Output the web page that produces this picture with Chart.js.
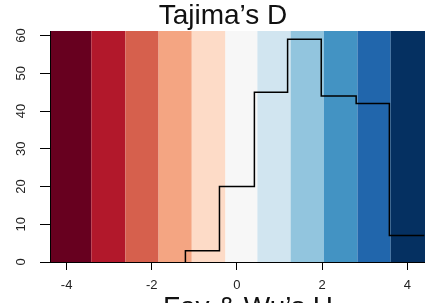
<!DOCTYPE html>
<html>
<head>
<meta charset="utf-8">
<script src="https://cdn.jsdelivr.net/npm/chart.js@4.4.1/dist/chart.umd.min.js"></script>
<style>
html, body { margin: 0; padding: 0; background: #fff; overflow: hidden; }
#chart { display: block; }
</style>
</head>
<body>
<canvas id="chart" width="496" height="330"></canvas>
<script>
// colour bands behind the histogram (RdBu, 11 classes)
const bandEdges = [-4.39, -3.42, -2.62, -1.84, -1.06, -0.27, 0.48, 1.26, 2.04, 2.83, 3.61, 4.91];
const bandColors = ['#67001f', '#b2182b', '#d6604d', '#f4a582', '#fddbc7', '#f7f7f7',
    '#d1e5f0', '#92c5de', '#4393c3', '#2166ac', '#053061'];

// histogram of Tajima's D
const binEdges = [-1.21, -0.41, 0.41, 1.19, 1.98, 2.80, 3.58, 4.40];
const binCounts = [3, 20, 45, 59, 44, 42, 7];

const xTicks = [-4, -2, 0, 2, 4];
const yTicks = [0, 10, 20, 30, 40, 50, 60];

const FONT = '"Liberation Sans", Arial, Helvetica, sans-serif';

// outline points: start on the axis, then one point per bin start, then the last edge
const stepPoints = [{ x: binEdges[0], y: 0 }]
    .concat(binCounts.map((c, i) => ({ x: binEdges[i], y: c })))
    .concat([{ x: binEdges[binEdges.length - 1], y: binCounts[binCounts.length - 1] }]);

const bandsPlugin = {
    id: 'bands',
    beforeDraw: (chart) => {
        const { ctx, chartArea, scales } = chart;
        ctx.save();
        for (let i = 0; i < bandColors.length; i++) {
            const x0 = scales.x.getPixelForValue(bandEdges[i]);
            const x1 = scales.x.getPixelForValue(bandEdges[i + 1]);
            ctx.fillStyle = bandColors[i];
            ctx.fillRect(x0, chartArea.top, x1 - x0, chartArea.bottom - chartArea.top);
        }
        ctx.restore();
    }
};

// R style y labels, turned to read bottom to top
const yLabelsPlugin = {
    id: 'yLabels',
    afterDraw: (chart) => {
        const { ctx, scales } = chart;
        ctx.save();
        ctx.fillStyle = '#222';
        ctx.font = `13px ${FONT}`;
        ctx.textAlign = 'center';
        ctx.textBaseline = 'middle';
        yTicks.forEach((v) => {
            const y = scales.y.getPixelForValue(v);
            ctx.save();
            ctx.translate(21, y);
            ctx.rotate(-Math.PI / 2);
            ctx.fillText(String(v), 0, 0);
            ctx.restore();
        });
        ctx.restore();
    }
};

new Chart(document.getElementById('chart'), {
    type: 'line',
    data: {
        datasets: [{
            data: stepPoints,
            stepped: 'before',
            borderColor: '#000',
            borderWidth: 1.5,
            pointRadius: 0,
            fill: false
        }]
    },
    options: {
        responsive: false,
        devicePixelRatio: 1,
        animation: false,
        layout: { padding: { left: 0, right: 50, top: 0, bottom: 0 } },
        scales: {
            x: {
                type: 'linear',
                min: -4.39,
                max: 4.91,
                afterBuildTicks: (scale) => { scale.ticks = xTicks.map((v) => ({ value: v })); },
                afterFit: (scale) => { scale.height = 68; },
                border: { display: true, color: '#000', width: 1 },
                grid: { drawOnChartArea: false, drawTicks: true, tickLength: 8, color: '#000', tickColor: '#000' },
                ticks: {
                    autoSkip: false,
                    maxRotation: 0,
                    padding: 8,
                    color: '#222',
                    font: { family: FONT, size: 13 }
                },
                title: {
                    display: true,
                    text: 'Fay & Wu\u2019s H',
                    color: '#111',
                    font: { family: FONT, size: 28, lineHeight: 1 },
                    padding: { top: 0, bottom: 8 }
                }
            },
            y: {
                min: 0,
                max: 61.2,
                afterBuildTicks: (scale) => { scale.ticks = yTicks.map((v) => ({ value: v })); },
                afterFit: (scale) => { scale.width = 50; },
                border: { display: true, color: '#000', width: 1 },
                grid: { drawOnChartArea: false, drawTicks: true, tickLength: 10, color: '#000', tickColor: '#000' },
                ticks: { display: false }
            }
        },
        plugins: {
            legend: { display: false },
            tooltip: { enabled: false },
            title: {
                display: true,
                text: 'Tajima\u2019s D',
                color: '#111',
                font: { family: FONT, size: 28, weight: 'normal', lineHeight: 1 },
                padding: { top: 2, bottom: 1 }
            }
        }
    },
    plugins: [bandsPlugin, yLabelsPlugin]
});
</script>
</body>
</html>
